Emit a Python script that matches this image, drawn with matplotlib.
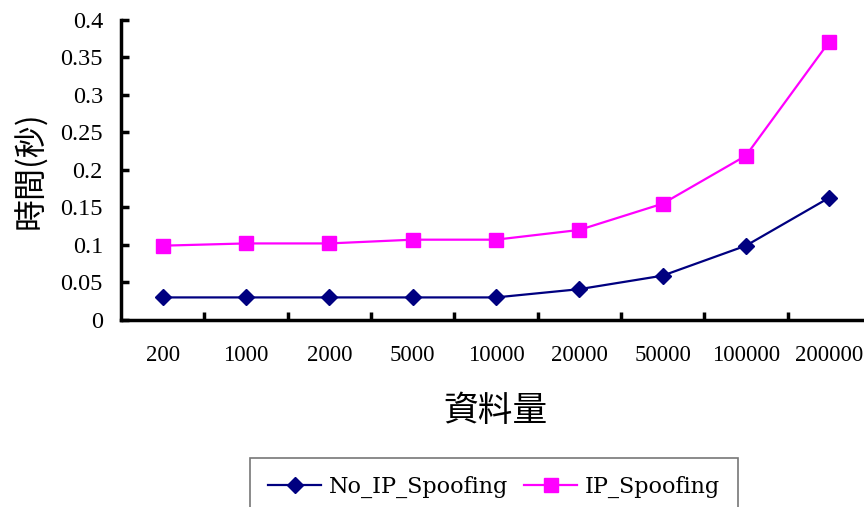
import matplotlib.pyplot as plt
import numpy as np

sizes = ['200', '1000', '2000', '5000', '10000', '20000', '50000', '100000', '200000']
no_ip_spoofing = [0.03, 0.03, 0.03, 0.03, 0.03, 0.041, 0.059, 0.099, 0.163]
ip_spoofing = [0.099, 0.102, 0.102, 0.107, 0.107, 0.12, 0.155, 0.219, 0.371]

plt.rcParams['font.family'] = ['Liberation Serif', 'Noto Sans CJK TC']

fig = plt.figure(figsize=(8.64, 5.07), dpi=100)
ax = fig.add_axes([0.140, 0.369, 0.868, 0.5916])

x = np.arange(len(sizes))
ax.plot(x, no_ip_spoofing, color='#000080', marker='D', markersize=8.5,
        linewidth=1.6, label='No_IP_Spoofing', clip_on=False)
ax.plot(x, ip_spoofing, color='#FF00FF', marker='s', markersize=10,
        linewidth=1.6, label='IP_Spoofing', clip_on=False)

ax.set_xlim(-0.5, len(sizes) - 0.5)
ax.set_ylim(0, 0.4)
ax.set_yticks(np.arange(0, 0.401, 0.05))
ax.set_yticklabels(['0', '0.05', '0.1', '0.15', '0.2', '0.25', '0.3', '0.35', '0.4'])
ax.set_xticks(x)
ax.set_xticklabels(sizes)
ax.set_xticks(np.arange(0.5, len(sizes) - 0.5, 1), minor=True)

ax.tick_params(axis='x', which='major', length=0, pad=18, labelsize=16.5)
ax.tick_params(axis='x', which='minor', direction='in', length=6, width=2.5)
ax.tick_params(axis='y', direction='in', length=6, width=2.5, pad=13, labelsize=17.5)

for s in ['top', 'right']:
    ax.spines[s].set_visible(False)
ax.spines['left'].set_linewidth(2.5)
ax.spines['bottom'].set_linewidth(2.5)

ax.set_ylabel('時間(秒)', family='Noto Sans CJK TC', fontsize=23, labelpad=9)
ax.set_xlabel('資料量', family='Noto Sans CJK TC', fontsize=25, labelpad=20)

leg = fig.legend(loc='upper center', bbox_to_anchor=(0.572, 0.097), ncol=2,
                 prop={'family': 'DejaVu Serif', 'size': 16},
                 frameon=True, fancybox=False, edgecolor='#555555',
                 handlelength=2.4, columnspacing=0.7, handletextpad=0.35,
                 borderaxespad=0, borderpad=0.8)
leg.get_frame().set_linewidth(1.2)

fig.savefig('out.png', dpi=100)
